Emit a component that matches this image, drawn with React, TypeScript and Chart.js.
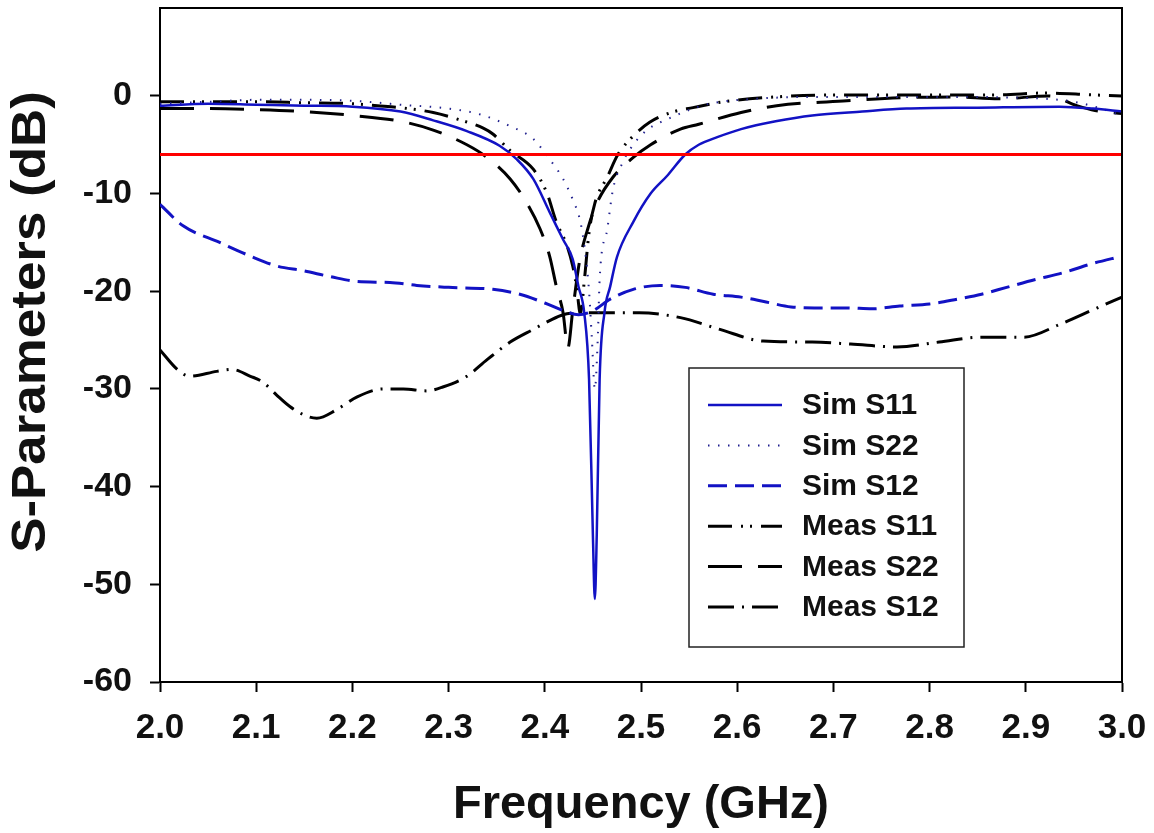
import React, { useEffect, useRef } from "react";
import { Chart, registerables } from "chart.js";

Chart.register(...registerables);

// ---------- axis ticks ----------
const xTickValues = [2.0, 2.1, 2.2, 2.3, 2.4, 2.5, 2.6, 2.7, 2.8, 2.9, 3.0];
const yTickValues = [-60, -50, -40, -30, -20, -10, 0];
const yTitle = "S-Parameters (dB)";
const xTitle = "Frequency (GHz)";

// ---------- -6 dB reference line ----------
const thresholdFreq = [2.0, 3.0];
const thresholdDb = [-6, -6];

// ---------- Sim S11 ----------
const simS11Freq = [2.0, 2.05, 2.1, 2.15, 2.2, 2.25, 2.284, 2.319, 2.353, 2.371, 2.388, 2.405, 2.419, 2.429, 2.435, 2.441, 2.446, 2.45, 2.452, 2.454, 2.457, 2.462, 2.468, 2.475, 2.492, 2.51, 2.527, 2.546, 2.56, 2.58, 2.604, 2.64, 2.678, 2.73, 2.776, 2.85, 2.935, 2.97, 3.0];
const simS11Db = [-1.0, -0.8, -0.9, -1.0, -1.1, -1.6, -2.5, -3.6, -5.1, -6.5, -8.5, -11.9, -14.7, -16.7, -19.5, -22.2, -29, -45, -51.5, -45, -29, -22.2, -19.5, -16.5, -12.9, -10.0, -8.2, -6.0, -5.0, -4.2, -3.4, -2.6, -2.0, -1.6, -1.3, -1.2, -1.1, -1.3, -1.6];

// ---------- Sim S22 ----------
const simS22Freq = [2.0, 2.05, 2.1, 2.15, 2.2, 2.25, 2.3, 2.333, 2.364, 2.388, 2.402, 2.419, 2.429, 2.437, 2.442, 2.446, 2.449, 2.452, 2.455, 2.457, 2.465, 2.471, 2.481, 2.489, 2.506, 2.527, 2.567, 2.618, 2.7, 2.8, 2.9, 2.95, 2.975, 3.0];
const simS22Db = [-0.8, -0.6, -0.4, -0.4, -0.5, -0.9, -1.3, -1.9, -3.1, -4.4, -6.1, -8.5, -10.6, -12.9, -16, -20, -25, -30, -25, -18.8, -13.6, -9.5, -6.8, -5.4, -3.5, -2.4, -0.9, -0.3, -0.1, -0.1, -0.2, -0.6, -1.2, -2.0];

// ---------- Sim S12 ----------
const simS12Freq = [2.0, 2.024, 2.062, 2.094, 2.121, 2.149, 2.177, 2.205, 2.239, 2.267, 2.3, 2.346, 2.374, 2.4, 2.42, 2.435, 2.45, 2.468, 2.492, 2.52, 2.546, 2.575, 2.604, 2.63, 2.656, 2.685, 2.714, 2.74, 2.769, 2.8, 2.829, 2.854, 2.88, 2.91, 2.939, 2.968, 3.0];
const simS12Db = [-11.1, -13.3, -15.0, -16.4, -17.4, -17.9, -18.5, -19.0, -19.1, -19.4, -19.6, -19.8, -20.3, -21.2, -22.0, -22.4, -22.0, -20.8, -19.8, -19.4, -19.6, -20.3, -20.6, -21.1, -21.6, -21.7, -21.7, -21.8, -21.5, -21.3, -20.8, -20.3, -19.6, -18.8, -18.1, -17.2, -16.4];

// ---------- Meas S11 ----------
const measS11Freq = [2.0, 2.05, 2.1, 2.15, 2.2, 2.226, 2.25, 2.284, 2.31, 2.336, 2.346, 2.364, 2.388, 2.402, 2.412, 2.423, 2.429, 2.433, 2.437, 2.441, 2.446, 2.452, 2.465, 2.476, 2.492, 2.509, 2.531, 2.554, 2.586, 2.641, 2.7, 2.76, 2.82, 2.87, 2.92, 2.97, 3.0];
const measS11Db = [-0.6, -0.6, -0.6, -0.7, -0.8, -1.0, -1.2, -1.7, -2.4, -3.3, -3.9, -5.6, -7.5, -9.9, -12.9, -15.3, -17.4, -19.5, -22.3, -19.0, -14.0, -11.0, -8.3, -6.0, -4.1, -2.7, -1.7, -1.2, -0.6, -0.1, 0.1, 0.1, 0.1, 0.1, 0.3, 0.1, 0.0];

// ---------- Meas S22 ----------
const measS22Freq = [2.0, 2.05, 2.1, 2.15, 2.2, 2.25, 2.284, 2.319, 2.34, 2.364, 2.381, 2.395, 2.405, 2.412, 2.419, 2.424, 2.429, 2.436, 2.445, 2.454, 2.471, 2.492, 2.51, 2.541, 2.56, 2.604, 2.641, 2.714, 2.769, 2.824, 2.872, 2.924, 2.953, 2.972, 3.0];
const measS22Db = [-1.3, -1.3, -1.4, -1.6, -2.0, -2.6, -3.5, -5.0, -6.3, -8.5, -10.9, -13.6, -16.4, -19.5, -22.2, -25.8, -22.0, -17.0, -13.5, -11.0, -8.3, -6.3, -5.0, -3.4, -2.9, -1.7, -1.0, -0.5, -0.2, -0.1, -0.3, 0.0, -1.0, -1.5, -1.8];

// ---------- Meas S12 ----------
const measS12Freq = [2.0, 2.018, 2.031, 2.059, 2.075, 2.094, 2.107, 2.121, 2.135, 2.153, 2.163, 2.184, 2.205, 2.232, 2.253, 2.277, 2.294, 2.319, 2.34, 2.364, 2.388, 2.405, 2.419, 2.44, 2.465, 2.498, 2.541, 2.582, 2.627, 2.678, 2.718, 2.766, 2.81, 2.854, 2.898, 2.935, 2.972, 3.0];
const measS12Db = [-26.0, -28.0, -28.7, -28.2, -28.0, -28.7, -29.3, -30.6, -31.8, -32.8, -33.0, -32.1, -30.8, -30.0, -30.0, -30.2, -29.8, -28.7, -27.0, -25.2, -23.9, -23.0, -22.4, -22.2, -22.2, -22.2, -22.7, -23.9, -25.1, -25.2, -25.4, -25.7, -25.2, -24.7, -24.7, -23.4, -21.8, -20.6];

const FONT = "'Liberation Sans', Arial, Helvetica, sans-serif";
const BLUE = "#1212c4";

const toPoints = (xs: number[], ys: number[]) => xs.map((x, i) => ({ x, y: ys[i] }));

const frameAndLegend = {
  id: "frameAndLegend",
  afterDraw(chart: any) {
    const { ctx, chartArea } = chart;
    ctx.save();
    // top and right frame lines
    ctx.strokeStyle = "#000";
    ctx.lineWidth = 2;
    ctx.setLineDash([]);
    ctx.beginPath();
    ctx.moveTo(chartArea.left, chartArea.top);
    ctx.lineTo(chartArea.right, chartArea.top);
    ctx.lineTo(chartArea.right, chartArea.bottom);
    ctx.stroke();

    // y-axis title (drawn by hand to match the stretched original)
    ctx.save();
    ctx.translate(31, 322);
    ctx.rotate(-Math.PI / 2);
    ctx.scale(1.08, 1);
    ctx.font = `bold 49px ${FONT}`;
    ctx.fillStyle = "#111";
    ctx.textAlign = "center";
    ctx.textBaseline = "middle";
    ctx.fillText(yTitle, 0, 0);
    ctx.restore();

    // legend box
    const bx = 689, by = 368, bw = 275, bh = 279;
    ctx.fillStyle = "#fff";
    ctx.fillRect(bx, by, bw, bh);
    ctx.strokeStyle = "#222";
    ctx.lineWidth = 1.5;
    ctx.strokeRect(bx, by, bw, bh);

    const items = chart.data.datasets.filter((d: any) => d.inLegend);
    ctx.font = `bold 30px ${FONT}`;
    ctx.textBaseline = "middle";
    ctx.textAlign = "left";
    items.forEach((d: any, i: number) => {
      const y = 405 + i * 40.4;
      ctx.strokeStyle = d.borderColor;
      ctx.lineWidth = d.borderWidth;
      ctx.setLineDash(d.borderDash || []);
      ctx.beginPath();
      ctx.moveTo(708, y);
      ctx.lineTo(782, y);
      ctx.stroke();
      ctx.setLineDash([]);
      ctx.fillStyle = "#111";
      ctx.fillText(d.label, 802, y + 1);
    });
    ctx.restore();
  },
};

export default function App() {
  const canvasRef = useRef<HTMLCanvasElement | null>(null);

  useEffect(() => {
    if (!canvasRef.current) return;
    const common = {
      pointRadius: 0,
      fill: false,
      cubicInterpolationMode: "monotone" as const,
    };
    const chart = new Chart(canvasRef.current, {
      type: "line",
      data: {
        datasets: [
          {
            ...common,
            label: "-6 dB",
            data: toPoints(thresholdFreq, thresholdDb),
            borderColor: "#ff0000",
            borderWidth: 3,
            inLegend: false,
          } as any,
          {
            ...common,
            label: "Sim S11",
            data: toPoints(simS11Freq, simS11Db),
            borderColor: BLUE,
            borderWidth: 2.5,
            borderDash: [],
            inLegend: true,
          } as any,
          {
            ...common,
            label: "Sim S22",
            data: toPoints(simS22Freq, simS22Db),
            borderColor: "#22228f",
            borderWidth: 2,
            borderDash: [1.5, 8.5],
            inLegend: true,
          } as any,
          {
            ...common,
            label: "Sim S12",
            data: toPoints(simS12Freq, simS12Db),
            borderColor: BLUE,
            borderWidth: 3,
            borderDash: [19, 8],
            inLegend: true,
          } as any,
          {
            ...common,
            label: "Meas S11",
            data: toPoints(measS11Freq, measS11Db),
            borderColor: "#000",
            borderWidth: 3,
            borderDash: [24, 9, 2, 7, 2, 9],
            inLegend: true,
          } as any,
          {
            ...common,
            label: "Meas S22",
            data: toPoints(measS22Freq, measS22Db),
            borderColor: "#000",
            borderWidth: 3,
            borderDash: [34, 16],
            inLegend: true,
          } as any,
          {
            ...common,
            label: "Meas S12",
            data: toPoints(measS12Freq, measS12Db),
            borderColor: "#000",
            borderWidth: 3,
            borderDash: [26, 8, 2, 8],
            inLegend: true,
          } as any,
        ],
      },
      options: {
        responsive: false,
        animation: false,
        devicePixelRatio: 1,
        layout: { padding: { left: 0, right: 32, top: 8, bottom: 0 } },
        plugins: { legend: { display: false }, tooltip: { enabled: false } },
        scales: {
          x: {
            type: "linear",
            min: 2.0,
            max: 3.0,
            afterBuildTicks: (s: any) => {
              s.ticks = xTickValues.map((v) => ({ value: v }));
            },
            afterFit: (s: any) => {
              s.height = 151;
              s.paddingLeft = 0;
              s.paddingRight = 0;
            },
            ticks: {
              autoSkip: false,
              maxRotation: 0,
              padding: 15,
              color: "#111",
              font: { family: FONT, size: 35, weight: "bold" },
              callback: (v: any) => Number(v).toFixed(1),
            },
            grid: { drawOnChartArea: false, tickLength: 10, tickWidth: 2, tickColor: "#000" },
            border: { color: "#000", width: 2 },
            title: {
              display: true,
              text: xTitle,
              color: "#111",
              font: { family: FONT, size: 47, weight: "bold" },
              padding: { top: 0, bottom: 0 },
            },
          },
          y: {
            type: "linear",
            min: -60,
            max: 9,
            afterBuildTicks: (s: any) => {
              s.ticks = yTickValues.map((v) => ({ value: v }));
            },
            afterFit: (s: any) => {
              s.width = 160;
              s.paddingTop = 0;
              s.paddingBottom = 0;
            },
            ticks: {
              padding: 18,
              color: "#111",
              font: { family: FONT, size: 34, weight: "bold" },
              callback: (v: any) => String(v),
            },
            grid: { drawOnChartArea: false, tickLength: 10, tickWidth: 2, tickColor: "#000" },
            border: { color: "#000", width: 2 },
            title: { display: false },
          },
        },
      } as any,
      plugins: [frameAndLegend],
    });
    return () => chart.destroy();
  }, []);

  return (
    <div style={{ position: "absolute", left: 0, top: 0, width: 1154, height: 833, background: "#fff" }}>
      <canvas ref={canvasRef} width={1154} height={833} style={{ display: "block" }} />
    </div>
  );
}
